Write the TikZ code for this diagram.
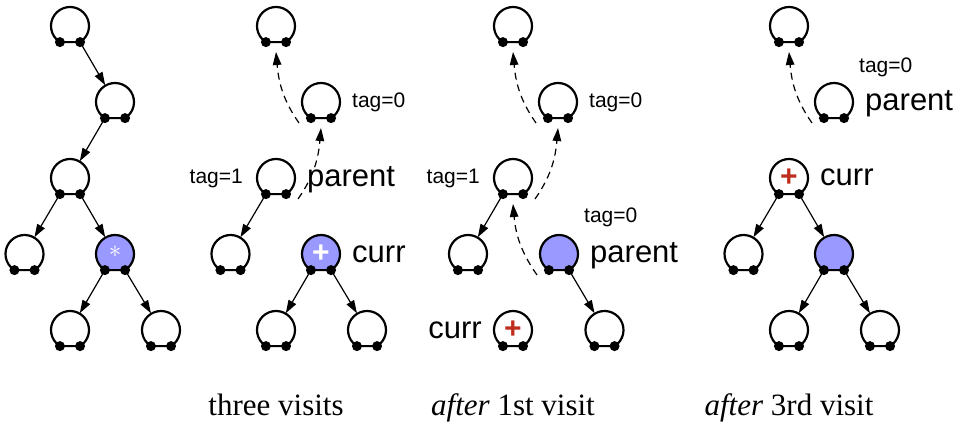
\documentclass[tikz,border=0pt]{standalone}
\usepackage{fontspec}
\setmainfont{Liberation Serif}
\setsansfont{Liberation Sans}
\usetikzlibrary{arrows.meta,calc}
\definecolor{nodeblue}{RGB}{153,153,255}
\definecolor{plusred}{RGB}{190,45,30}
\newcommand\TN[5]{%
  \fill[#4] (#2,#3) ++(-58:19) arc[start angle=-58,end angle=238,radius=19] -- cycle;
  \draw[line width=2.2pt] (#2,#3) ++(-58:19) arc[start angle=-58,end angle=238,radius=19] -- cycle;
  \fill (#2,#3) ++(-58:19) circle[radius=5];
  \fill (#2,#3) ++(-122:19) circle[radius=5];
  \node[tn] (#1) at (#2,#3) {#5};
}
\begin{document}
\begin{tikzpicture}[x=1pt,y=1pt,
  tn/.style={circle,minimum size=38pt,inner sep=0pt,outer sep=0pt,font=\sffamily\bfseries\fontsize{30}{30}\selectfont},
  edge/.style={-{Triangle[length=13pt,width=8.5pt]},line width=1.2pt,shorten >=0.5pt},
  dedge/.style={-{Triangle[length=13pt,width=8.5pt]},line width=1.2pt,dash pattern=on 7pt off 5pt},
  big/.style={font=\sffamily\fontsize{31}{31}\selectfont,inner sep=0pt},
  small/.style={font=\sffamily\fontsize{21}{21}\selectfont,inner sep=0pt},
  captext/.style={font=\fontsize{31}{31}\selectfont,inner sep=0pt,anchor=base}]
\useasboundingbox (0,0) rectangle (967,-422);

% ---------- tree 1 ----------
\TN{a1}{70}{-26}{white}{}
\TN{a2}{115}{-102}{white}{}
\TN{a3}{70}{-178}{white}{}
\TN{a4}{24.5}{-254}{white}{}
\TN{a5}{115}{-254}{nodeblue}{\raisebox{4pt}{\color{white}\fontsize{40}{40}\selectfont$\ast$}}
\TN{a6}{70}{-330}{white}{}
\TN{a7}{161}{-330}{white}{}
\draw[edge] (a1.-58) -- (a2);
\draw[edge] (a2.-122) -- (a3);
\draw[edge] (a3.-122) -- (a4);
\draw[edge] (a3.-58) -- (a5);
\draw[edge] (a5.-122) -- (a6);
\draw[edge] (a5.-58) -- (a7);

% ---------- tree 2 ----------
\TN{b1}{276}{-26}{white}{}
\TN{b2}{321}{-102}{white}{}
\TN{b3}{276}{-178}{white}{}
\TN{b4}{230.5}{-254}{white}{}
\TN{b5}{321}{-254}{nodeblue}{\color{white}+}
\TN{b6}{276}{-330}{white}{}
\TN{b7}{367}{-330}{white}{}
\draw[edge] (b3.-122) -- (b4);
\draw[edge] (b5.-122) -- (b6);
\draw[edge] (b5.-58) -- (b7);
\draw[dedge] ($(b3)+(22,-21)$) to[out=55,in=-95] ([yshift=-7pt]b2.south);
\draw[dedge] ($(b2)+(-22,-21)$) to[out=125,in=-85] ([yshift=-7pt]b1.south);
\node[small,anchor=base west] (b2t) at ($(b2)+(31,-6)$) {tag=0};
\node[small,anchor=base east] (b3t) at ($(b3)+(-33,-6)$) {tag=1};
\node[big,anchor=base west] (b3l) at ($(b3)+(31,-9)$) {parent};
\node[big,anchor=base west] (b5l) at ($(b5)+(31,-8)$) {curr};

% ---------- tree 3 ----------
\TN{c1}{513}{-26}{white}{}
\TN{c2}{558}{-102}{white}{}
\TN{c3}{513}{-178}{white}{}
\TN{c4}{468}{-254}{white}{}
\TN{c5}{559}{-254}{nodeblue}{}
\TN{c6}{513}{-330}{white}{\color{plusred}+}
\TN{c7}{604.5}{-330}{white}{}
\draw[edge] (c3.-122) -- (c4);
\draw[edge] (c5.-58) -- (c7);
\draw[dedge] ($(c3)+(22,-21)$) to[out=55,in=-95] ([yshift=-7pt]c2.south);
\draw[dedge] ($(c2)+(-22,-21)$) to[out=125,in=-85] ([yshift=-7pt]c1.south);
\draw[dedge] ($(c5)+(-22,-21)$) to[out=125,in=-85] ([yshift=-7pt]c3.south);
\node[small,anchor=base west] (c2t) at ($(c2)+(31,-6)$) {tag=0};
\node[small,anchor=base east] (c3t) at ($(c3)+(-33,-6)$) {tag=1};
\node[small,anchor=base west] (c5t) at ($(c5)+(25,31)$) {tag=0};
\node[big,anchor=base west] (c5l) at ($(c5)+(31,-9)$) {parent};
\node[big,anchor=base east] (c6l) at ($(c6)+(-31,-8)$) {curr};

% ---------- tree 4 ----------
\TN{d1}{789}{-26}{white}{}
\TN{d2}{834}{-102}{white}{}
\TN{d3}{789}{-178}{white}{\color{plusred}+}
\TN{d4}{743.5}{-254}{white}{}
\TN{d5}{834}{-254}{nodeblue}{}
\TN{d6}{789}{-330}{white}{}
\TN{d7}{880}{-330}{white}{}
\draw[edge] (d3.-122) -- (d4);
\draw[edge] (d3.-58) -- (d5);
\draw[edge] (d5.-122) -- (d6);
\draw[edge] (d5.-58) -- (d7);
\draw[dedge] ($(d2)+(-22,-21)$) to[out=125,in=-85] ([yshift=-7pt]d1.south);
\node[small,anchor=base west] (d2t) at ($(d2)+(25,29)$) {tag=0};
\node[big,anchor=base west] (d2l) at ($(d2)+(31,-9)$) {parent};
\node[big,anchor=base west] (d3l) at ($(d3)+(31,-8)$) {curr};

% ---------- captions ----------
\node[captext] (cap2) at (276,-415) {three visits};
\node[captext] (cap3) at (513,-415) {\textit{after} 1st visit};
\node[captext] (cap4) at (789,-415) {\textit{after} 3rd visit};
\end{tikzpicture}
\end{document}
